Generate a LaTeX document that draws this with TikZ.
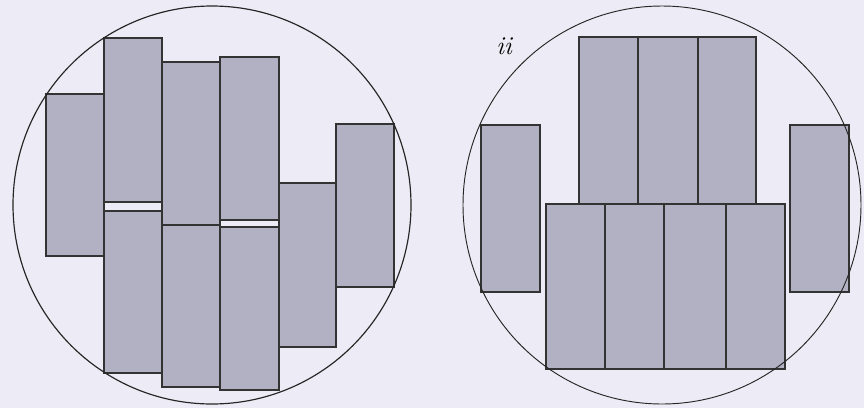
\documentclass[tikz,border=0pt]{standalone}
\usetikzlibrary{positioning}
\definecolor{paper}{RGB}{237,236,246}
\definecolor{slabgray}{RGB}{178,177,196}
\begin{document}
\begin{tikzpicture}[x=0.03cm,y=-0.03cm,
  slab/.style={draw=black!80,fill=slabgray,line width=1pt},
  ring/.style={draw=black!85,line width=1pt}]
  \fill[paper] (0,0) rectangle (864,408);
  \useasboundingbox (0,0) rectangle (864,408);
  % left sample
  \foreach \xa/\ya/\xb/\yb in {46/94/104/256, 104/38/162/202, 104/211/162/373,
      162/62/220/225, 162/225/220/387, 220/57/279/220, 220/227/279/390,
      279/183/336/347, 336/124/394/287}
    \draw[slab] (\xa,\ya) rectangle (\xb,\yb);
  \draw[ring] (212,205) circle[radius=199];
  % right sample
  \foreach \xa/\ya/\xb/\yb in {481/125/540/292, 579/37/638/204, 638/37/698/204,
      698/37/756/204, 546/204/605/369, 605/204/664/369, 664/204/726/369,
      726/204/785/369, 790/125/849/292}
    \draw[slab] (\xa,\ya) rectangle (\xb,\yb);
  \draw[ring,line width=0.8pt] (662,205) circle[radius=199];
  \node[font=\fontsize{22}{24}\selectfont\itshape] (lblii) at (504,46) {ii};
\end{tikzpicture}
\end{document}
